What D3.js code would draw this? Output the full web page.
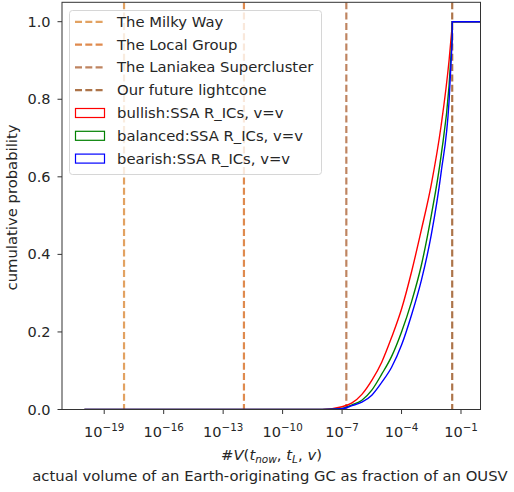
<!DOCTYPE html>
<html>
<head>
<meta charset="utf-8">
<script src="https://cdn.jsdelivr.net/npm/d3@7"></script>
<style>
  html, body { margin: 0; padding: 0; background: #fff; }
  svg { display: block; font-family: "DejaVu Sans", sans-serif; }
</style>
</head>
<body>
<svg id="chart" width="514" height="492"></svg>
<script>
// ---------- data ----------
const volume = [1e-20, 1e-8, 1e-7, 3.16e-7, 1e-6, 3.16e-6, 1e-5, 3.16e-5, 1e-4, 3.16e-4, 1e-3, 3.16e-3, 1e-2, 2.5e-2, 3.6e-2, 3.6e-2, 1];
const bullish  = [0, 0.0003, 0.007, 0.017, 0.039, 0.075, 0.122, 0.186, 0.259, 0.354, 0.463, 0.580, 0.733, 0.900, 0.990, 1, 1];
const balanced = [0, 0.0002, 0.003, 0.012, 0.024, 0.050, 0.091, 0.137, 0.200, 0.277, 0.372, 0.500, 0.656, 0.835, 0.965, 1, 1];
const bearish  = [0, 0.0001, 0.002, 0.010, 0.019, 0.037, 0.070, 0.109, 0.166, 0.243, 0.333, 0.450, 0.612, 0.795, 0.953, 1, 1];
const seriesNames = ["bullish:SSA R_ICs, v=v", "balanced:SSA R_ICs, v=v", "bearish:SSA R_ICs, v=v"];
const seriesColors = ["#ff0000", "#008000", "#0000ff"];
const markerNames = ["The Milky Way", "The Local Group", "The Laniakea Supercluster", "Our future lightcone"];
const markerValues = [1e-18, 1.12e-12, 1.64e-7, 3.6e-2];
const markerColors = ["#e2a262", "#df8a4e", "#bf8460", "#ad7449"];
const xTickExps = [-19, -16, -13, -10, -7, -4, -1];
const yTicks = [0.0, 0.2, 0.4, 0.6, 0.8, 1.0];
const xDomain = [Math.pow(10, -21.13), Math.pow(10, -0.016)];
const yDomain = [0, 1.05];

// ---------- layout ----------
const svg = d3.select("#chart");
const L = 62, R = 480.5, T = 2.3, B = 409.5;
const x = d3.scaleLog().domain(xDomain).range([L, R]);
const y = d3.scaleLinear().domain(yDomain).range([B, T]);
const fs = 14.8, tfs = 14.5;

svg.append("defs").append("clipPath").attr("id", "clip")
  .append("rect").attr("x", L).attr("y", T).attr("width", R - L).attr("height", B - T);

const plot = svg.append("g").attr("clip-path", "url(#clip)");

// vertical marker lines
markerValues.forEach((v, i) => {
  plot.append("line")
    .attr("x1", x(v)).attr("x2", x(v))
    .attr("y1", T).attr("y2", B)
    .attr("stroke", markerColors[i])
    .attr("stroke-width", 2.2)
    .attr("stroke-dasharray", "7,3.3");
});

// curves
const allSeries = [bullish, balanced, bearish];
const smoothLine = d3.line().x(d => x(d[0])).y(d => y(d[1])).curve(d3.curveMonotoneX);
allSeries.forEach((vals, i) => {
  const pts = volume.map((v, j) => [v, vals[j]]);
  let cut = pts.length;
  for (let j = 1; j < pts.length; j++) { if (pts[j][0] === pts[j - 1][0]) { cut = j; break; } }
  const p = d3.path();
  smoothLine.context(p)(pts.slice(0, cut));
  for (let j = cut; j < pts.length; j++) p.lineTo(x(pts[j][0]), y(pts[j][1]));
  smoothLine.context(null);
  plot.append("path")
    .attr("d", p.toString())
    .attr("fill", "none")
    .attr("stroke", seriesColors[i])
    .attr("stroke-width", 1.4);
});

// ---------- axes ----------
const axisColor = "#333";
const xt = svg.append("g");
xTickExps.forEach(e => {
  const px = x(Math.pow(10, e));
  xt.append("line").attr("x1", px).attr("x2", px).attr("y1", B).attr("y2", B + 4.5)
    .attr("stroke", axisColor).attr("stroke-width", 1);
  const t = xt.append("text").attr("x", px).attr("y", 437).attr("text-anchor", "middle")
    .attr("font-size", tfs).attr("fill", "#262626");
  t.append("tspan").text("10");
  t.append("tspan").attr("dy", -6.5).attr("font-size", 10.3).text("\u2212" + Math.abs(e));
});
const yt = svg.append("g");
yTicks.forEach(v => {
  const py = y(v);
  yt.append("line").attr("x1", L - 4.5).attr("x2", L).attr("y1", py).attr("y2", py)
    .attr("stroke", axisColor).attr("stroke-width", 1);
  yt.append("text").attr("x", 50.5).attr("y", py + 5).attr("text-anchor", "end")
    .attr("font-size", tfs).attr("fill", "#262626").text(d3.format(".1f")(v));
});

svg.append("rect").attr("x", L).attr("y", T).attr("width", R - L).attr("height", B - T)
  .attr("fill", "none").attr("stroke", axisColor).attr("stroke-width", 1);

// labels
svg.append("text")
  .attr("transform", `translate(17,207.5) rotate(-90)`)
  .attr("text-anchor", "middle").attr("font-size", fs).attr("fill", "#262626")
  .text("cumulative probability");

const xl = svg.append("text").attr("x", 271.5).attr("y", 460).attr("text-anchor", "middle")
  .attr("font-size", fs).attr("fill", "#262626");
xl.append("tspan").text("#");
xl.append("tspan").attr("font-style", "italic").text("V");
xl.append("tspan").text("(");
xl.append("tspan").attr("font-style", "italic").text("t");
xl.append("tspan").attr("font-style", "italic").attr("font-size", 10.5).attr("dy", 3).text("now");
xl.append("tspan").attr("dy", -3).text(", ");
xl.append("tspan").attr("font-style", "italic").text("t");
xl.append("tspan").attr("font-style", "italic").attr("font-size", 10.5).attr("dy", 3).text("L");
xl.append("tspan").attr("dy", -3).text(", ");
xl.append("tspan").attr("font-style", "italic").text("v");
xl.append("tspan").text(")");

svg.append("text").attr("x", 270).attr("y", 481).attr("text-anchor", "middle")
  .attr("font-size", fs).attr("fill", "#262626")
  .text("actual volume of an Earth-originating GC as fraction of an OUSV");

// ---------- legend ----------
const lg = svg.append("g");
lg.append("rect").attr("x", 69.5).attr("y", 10.5).attr("width", 252).attr("height", 164)
  .attr("rx", 3).attr("fill", "#fff").attr("fill-opacity", 0.8)
  .attr("stroke", "#d6d6d6").attr("stroke-width", 1);
const rowY = i => 21.8 + i * 22.8;
markerNames.forEach((name, i) => {
  lg.append("line").attr("x1", 75).attr("x2", 105).attr("y1", rowY(i)).attr("y2", rowY(i))
    .attr("stroke", markerColors[i]).attr("stroke-width", 2.2).attr("stroke-dasharray", "7,3.3");
  lg.append("text").attr("x", 117).attr("y", rowY(i) + 5).attr("font-size", fs)
    .attr("fill", "#262626").text(name);
});
seriesNames.forEach((name, k) => {
  const i = k + markerNames.length;
  lg.append("rect").attr("x", 75.5).attr("y", rowY(i) - 4.5).attr("width", 29).attr("height", 9)
    .attr("fill", "#fff").attr("stroke", seriesColors[k]).attr("stroke-width", 1.2);
  lg.append("text").attr("x", 117).attr("y", rowY(i) + 5).attr("font-size", fs)
    .attr("fill", "#262626").text(name);
});
</script>
</body>
</html>
